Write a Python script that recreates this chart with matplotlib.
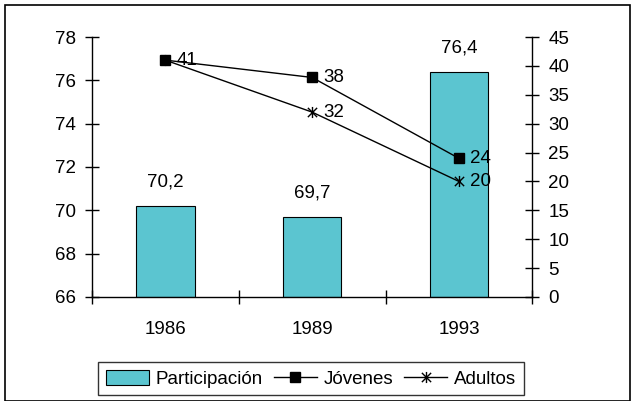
import matplotlib
matplotlib.use("Agg")
import matplotlib.pyplot as plt
from matplotlib.patches import Rectangle, Patch
from matplotlib.lines import Line2D
from matplotlib.path import Path
from matplotlib.ticker import FixedLocator

plt.rcParams['font.family'] = ['Liberation Sans', 'DejaVu Sans']
plt.rcParams['font.size'] = 13.5

years = ["1986", "1989", "1993"]
participacion = [70.2, 69.7, 76.4]
participacion_labels = ["70,2", "69,7", "76,4"]
jovenes = [41, 38, 24]
adultos = [41, 32, 20]

bar_color = "#5BC5D0"

# X with a vertical stroke through it
star = Path([(-1, -1), (1, 1), (-1, 1), (1, -1), (0, -1.2), (0, 1.2)],
            [Path.MOVETO, Path.LINETO] * 3)

fig = plt.figure(figsize=(6.36, 4.01), dpi=100)
fig.patches.append(Rectangle((0.008, 0.0), 0.982, 0.987, transform=fig.transFigure,
                             fill=False, edgecolor="black", linewidth=1.2, zorder=10))

ax = fig.add_axes([0.1445, 0.2594, 0.6925, 0.6483])
x = list(range(len(years)))
ax.bar(x, [v - 66 for v in participacion], bottom=66, width=0.4,
       color=bar_color, edgecolor="black", linewidth=0.8, zorder=2)
ax.set_ylim(66, 78)
ax.set_xlim(-0.5, 2.5)
ax.set_yticks(range(66, 79, 2))
ax.set_xticks(x)
ax.set_xticklabels(years)
ax.xaxis.set_minor_locator(FixedLocator([-0.5, 0.5, 1.5, 2.5]))
ax.tick_params(axis='x', which='major', length=0, pad=17)
ax.tick_params(axis='x', which='minor', length=10, direction='inout', width=1)
ax.tick_params(axis='y', length=10, direction='inout', width=1, pad=6.5)
ax.spines['top'].set_visible(False)
ax.spines['right'].set_visible(False)
for s in ('left', 'bottom'):
    ax.spines[s].set_linewidth(1)

for xi, v, lab in zip(x, participacion, participacion_labels):
    ax.annotate(lab, (xi, v), xytext=(0, 11), textcoords='offset points',
                ha='center', va='bottom')

ax2 = ax.twinx()
ax2.set_ylim(0, 45)
ax2.set_yticks(range(0, 46, 5))
ax2.tick_params(axis='y', length=10, direction='inout', width=1, pad=6.5)
for s in ('top', 'left', 'bottom'):
    ax2.spines[s].set_visible(False)
ax2.spines['right'].set_linewidth(1)

ax2.plot(x, adultos, color="black", linewidth=1, marker=star,
         markersize=8, markeredgewidth=1, zorder=3)
ax2.plot(x, jovenes, color="black", linewidth=1, marker='s',
         markersize=7.5, markerfacecolor="black", zorder=4)

for xi, v in zip(x, jovenes):
    ax2.annotate(str(v), (xi, v), xytext=(8, 0), textcoords='offset points',
                 ha='left', va='center')
for xi, v in zip(x[1:], adultos[1:]):
    ax2.annotate(str(v), (xi, v), xytext=(8, 0), textcoords='offset points',
                 ha='left', va='center')

handles = [
    Patch(facecolor=bar_color, edgecolor="black", linewidth=0.8),
    Line2D([], [], color="black", linewidth=1, marker='s', markersize=7.5),
    Line2D([], [], color="black", linewidth=1, marker=star, markersize=8),
]
leg = fig.legend(handles, ["Participación", "Jóvenes", "Adultos"],
                 loc='center', bbox_to_anchor=(0.4887, 0.056), ncol=3,
                 frameon=True, fancybox=False, handlelength=2.3, handleheight=0.85,
                 handletextpad=0.35, columnspacing=0.6, borderpad=0.4,
                 borderaxespad=0, fontsize=13.5)
leg.get_frame().set_edgecolor("black")
leg.get_frame().set_linewidth(1)

fig.savefig("out.png", dpi=100)
